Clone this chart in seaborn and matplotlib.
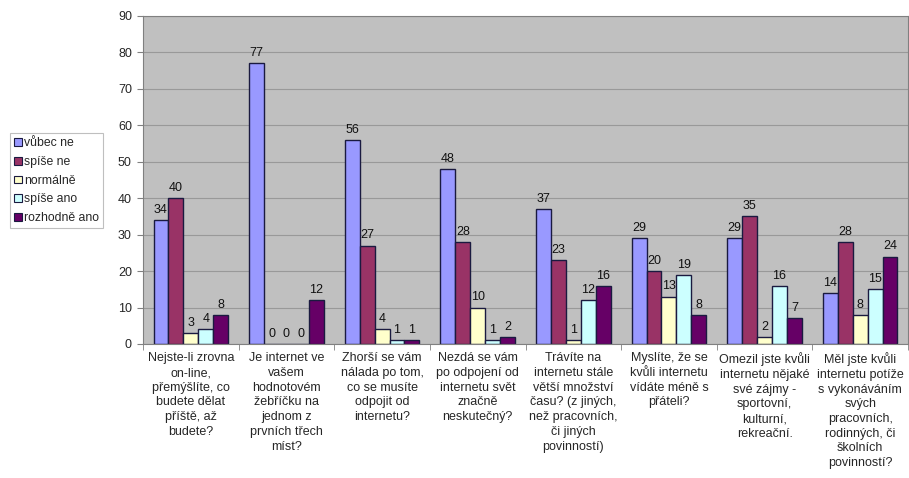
import numpy as np
import pandas as pd
import matplotlib
matplotlib.use('Agg')
import matplotlib.pyplot as plt
import seaborn as sns

questions = [
    "Nejste-li zrovna\non-line,\npřemýšlíte, co\nbudete dělat\npříště, až\nbudete?",
    "Je internet ve\nvašem\nhodnotovém\nžebříčku na\njednom z\nprvních třech\nmíst?",
    "Zhorší se vám\nnálada po tom,\nco se musíte\nodpojit od\ninternetu?",
    "Nezdá se vám\npo odpojení od\ninternetu svět\nznačně\nneskutečný?",
    "Trávíte na\ninternetu stále\nvětší množství\nčasu? (z jiných,\nnež pracovních,\nči jiných\npovinností)",
    "Myslíte, že se\nkvůli internetu\nvídáte méně s\npřáteli?",
    "Omezil jste kvůli\ninternetu nějaké\nsvé zájmy -\nsportovní,\nkulturní,\nrekreační.",
    "Měl jste kvůli\ninternetu potíže\ns vykonáváním\nsvých\npracovních,\nrodinných, či\nškolních\npovinností?",
]
answers = ["vůbec ne", "spíše ne", "normálně", "spíše ano", "rozhodně ano"]

vubec_ne = [34, 77, 56, 48, 37, 29, 29, 14]
spise_ne = [40, 0, 27, 28, 23, 20, 35, 28]
normalne = [3, 0, 4, 10, 1, 13, 2, 8]
spise_ano = [4, 0, 1, 1, 12, 19, 16, 15]
rozhodne_ano = [8, 12, 1, 2, 16, 8, 7, 24]

colors = ['#9999FF', '#993366', '#FFFFCC', '#CCFFFF', '#660066']

series = [vubec_ne, spise_ne, normalne, spise_ano, rozhodne_ano]
rows = []
for a, vals in zip(answers, series):
    for q, v in zip(questions, vals):
        rows.append({'otazka': q, 'odpoved': a, 'pocet': v})
df = pd.DataFrame(rows)

sns.set_style('white')
plt.rcParams['font.family'] = ['Liberation Sans', 'DejaVu Sans']

fig = plt.figure(figsize=(9.09, 4.78), dpi=100)
ax = fig.add_axes([143 / 909, 1 - 344 / 478, 765 / 909, 328 / 478])
ax.set_facecolor('#C0C0C0')

sns.barplot(data=df, x='otazka', y='pocet', hue='odpoved', order=questions,
            hue_order=answers, palette=colors, saturation=1, width=0.78,
            edgecolor='#1a1a40', linewidth=1.0, ax=ax, legend=True)

for cont in ax.containers:
    ax.bar_label(cont, padding=3, fontsize=9, color='#111111')

ax.set_ylim(0, 90)
ax.set_yticks(range(0, 91, 10))
ax.set_xlim(-0.5, len(questions) - 0.5)
ax.yaxis.grid(True, color='#999999', linewidth=0.8)
ax.set_axisbelow(True)
ax.set_xlabel('')
ax.set_ylabel('')
ax.tick_params(axis='y', labelsize=9, length=4, color='#808080', left=True, pad=4)
ax.tick_params(axis='x', labelsize=9, length=0, pad=6)
ax.set_xticks(range(len(questions)))
ax.set_xticklabels(questions, linespacing=1.3, va='top')
ax.set_xticks(np.arange(-0.5, len(questions), 1), minor=True)
ax.tick_params(axis='x', which='minor', length=4, color='#808080', bottom=True)
for s in ax.spines.values():
    s.set_color('#808080')
    s.set_linewidth(0.8)

leg = ax.legend(loc='upper left', bbox_to_anchor=(10 / 909, 1 - 133 / 478),
                bbox_transform=fig.transFigure, frameon=True, fontsize=8.8,
                handlelength=0.6, handleheight=0.6, handletextpad=0.2,
                borderpad=0.35, labelspacing=0.55, borderaxespad=0,
                fancybox=False)
leg.get_frame().set_edgecolor('#b0b0b0')
leg.get_frame().set_linewidth(0.8)
for h in leg.legend_handles:
    h.set_edgecolor('#1a1a40')
    h.set_linewidth(0.8)

fig.savefig('out.png', dpi=100)
